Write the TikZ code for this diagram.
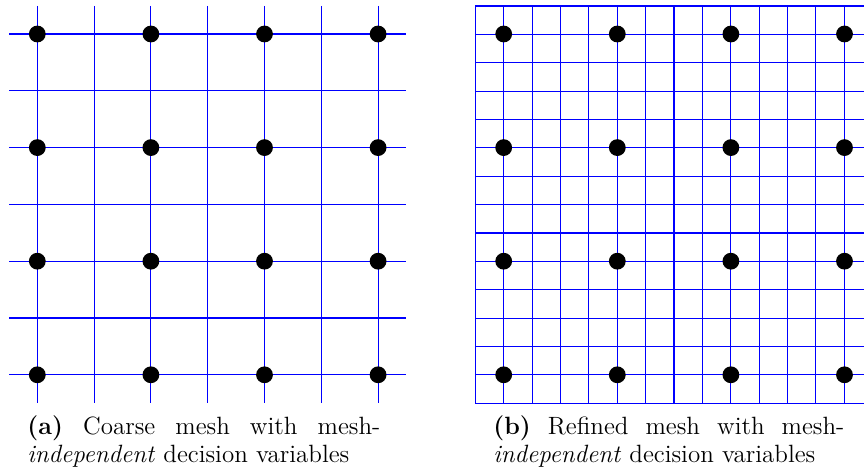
\documentclass[tikz,border=0pt]{standalone}
\begin{document}
\begin{tikzpicture}[x=0.5pt,y=-0.5pt,
  meshline/.style={blue,line width=0.55pt},
  dvar/.style={circle,fill=black,inner sep=0pt,minimum size=8.4pt},
  captionbox/.style={anchor=base west,inner sep=0pt,font=\fontsize{12.5}{14}\selectfont}]
\useasboundingbox (0,0) rectangle (864,470);
% left coarse mesh
\foreach \i in {0,...,6}{
  \draw[meshline] ({37.3+56.8*\i},6) -- ({37.3+56.8*\i},403);
  \draw[meshline] (9,{34+56.8*\i}) -- (406,{34+56.8*\i});
}
% right refined mesh
\begin{scope}
\clip (0,0) rectangle (864,470);
\foreach \i in {0,...,13}{
  \draw[meshline] ({475.3+28.38*\i},6) -- ({475.3+28.38*\i},403);
}
\foreach \j in {0,...,14}{
  \draw[meshline] (475.3,{6+28.38*\j}) -- (870,{6+28.38*\j});
}
\end{scope}
% decision variables
\foreach \k in {0,...,3}{
  \foreach \m in {0,...,3}{
    \node[dvar] (a\k\m) at ({37.3+113.6*\k},{34+113.6*\m}) {};
    \node[dvar] (b\k\m) at ({503.7+113.6*\k},{34+113.6*\m}) {};
  }
}
% captions
\node[captionbox] (capa) at (27,435) {\parbox[t]{176.5pt}{\textbf{(a)}\ Coarse mesh with mesh-\linebreak\textit{independent} decision variables}};
\node[captionbox] (capb) at (493,435) {\parbox[t]{175.5pt}{\textbf{(b)}\ Refined mesh with mesh-\linebreak\textit{independent} decision variables}};
\end{tikzpicture}
\end{document}
